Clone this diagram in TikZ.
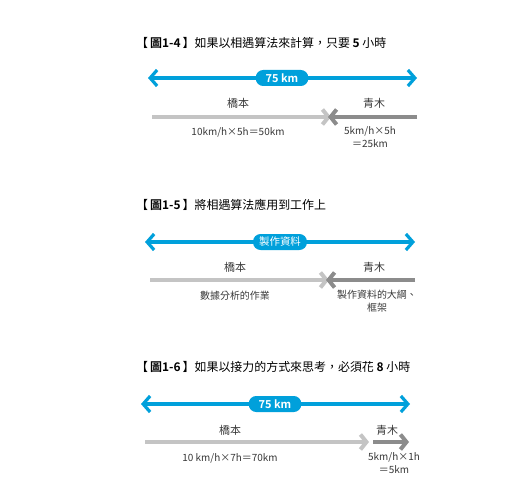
\documentclass[tikz,border=0pt]{standalone}
\usepackage{fontspec}
\setmainfont{Noto Sans CJK TC}[BoldFont={Noto Sans CJK TC Bold}]
\usetikzlibrary{arrows.meta}
\definecolor{routeblue}{RGB}{0,160,219}
\definecolor{lightbar}{RGB}{196,196,196}
\definecolor{darkbar}{RGB}{140,140,140}
\definecolor{labelgray}{RGB}{55,55,55}

\begin{document}
\begin{tikzpicture}[x=1bp,y=-1bp,
    title/.style={anchor=west,inner sep=0pt,font=\fontsize{12}{14}\selectfont},
    route/.style={routeblue,line width=3.2bp,{Straight Barb[length=7bp,width=16bp,sharp]}-{Straight Barb[length=7bp,width=16bp,sharp]}},
    pill/.style={fill=routeblue,text=white,rounded corners=7.5bp,minimum height=16bp,inner xsep=10bp,inner ysep=0pt,font=\bfseries\fontsize{11}{12}\selectfont},
    person/.style={text=labelgray,inner sep=0pt,font=\fontsize{11}{12}\selectfont},
    note/.style={text=labelgray,inner sep=0pt,align=center,font=\fontsize{10}{13}\selectfont},
    lightrun/.style={lightbar,line width=4bp,-{Straight Barb[length=6bp,width=15bp,sharp]}},
    darkrun/.style={darkbar,line width=4bp,-{Straight Barb[length=6bp,width=15bp,sharp]}}
]
    \useasboundingbox (0,0) rectangle (520,500);

    % figure 1-4
    \node[title] (t4) at (136,43) {【\hspace{2bp}\textbf{圖1-4}\hspace{2bp}】如果以相遇算法來計算，只要 \textbf{5} 小時};
    \coordinate (a4l) at (148,78);
    \coordinate (a4r) at (417,78);
    \draw[route] (a4l) -- (a4r);
    \node[pill] (d4) at (282,78) {75 km};
    \node[person] (h4) at (238,103) {橋本};
    \node[person] (q4) at (374,103) {青木};
    \coordinate (h4s) at (152,117);
    \coordinate (h4e) at (331,117);
    \coordinate (q4s) at (417,117);
    \coordinate (q4e) at (328,117);
    \draw[lightrun] (h4s) -- (h4e);
    \draw[darkrun] (q4s) -- (q4e);
    \node[note] (n4h) at (238,132) {10km/h×5h＝50km};
    \node[note,anchor=north] (n4q) at (370,126) {5km/h×5h\\＝25km};

    % figure 1-5
    \node[title] (t5) at (136,205) {【\hspace{2bp}\textbf{圖1-5}\hspace{2bp}】將相遇算法應用到工作上};
    \coordinate (a5l) at (145,242);
    \coordinate (a5r) at (415,242);
    \draw[route] (a5l) -- (a5r);
    \node[pill,inner xsep=6bp,font=\fontsize{10.5}{12}\selectfont] (d5) at (280,242) {製作資料};
    \node[person] (h5) at (235,267) {橋本};
    \node[person] (q5) at (374,267) {青木};
    \coordinate (h5s) at (150,280);
    \coordinate (h5e) at (329,280);
    \coordinate (q5s) at (415,280);
    \coordinate (q5e) at (326,280);
    \draw[lightrun] (h5s) -- (h5e);
    \draw[darkrun] (q5s) -- (q5e);
    \node[note] (n5h) at (235,296) {數據分析的作業};
    \node[note,anchor=north] (n5q) at (377,290) {製作資料的大綱、\\框架};

    % figure 1-6
    \node[title] (t6) at (136,367) {【\hspace{2bp}\textbf{圖1-6}\hspace{2bp}】如果以接力的方式來思考，必須花 \textbf{8} 小時};
    \coordinate (a6l) at (141,404);
    \coordinate (a6r) at (410,404);
    \draw[route] (a6l) -- (a6r);
    \node[pill] (d6) at (275,404) {75 km};
    \node[person] (h6) at (230,430) {橋本};
    \node[person] (q6) at (387,430) {青木};
    \coordinate (h6s) at (145,442);
    \coordinate (h6e) at (369,442);
    \coordinate (q6s) at (373,442);
    \coordinate (q6e) at (409,442);
    \draw[lightrun] (h6s) -- (h6e);
    \draw[darkrun] (q6s) -- (q6e);
    \node[note] (n6h) at (230,458) {10 km/h×7h＝70km};
    \node[note,anchor=north] (n6q) at (394,452) {5km/h×1h\\＝5km};
\end{tikzpicture}
\end{document}
